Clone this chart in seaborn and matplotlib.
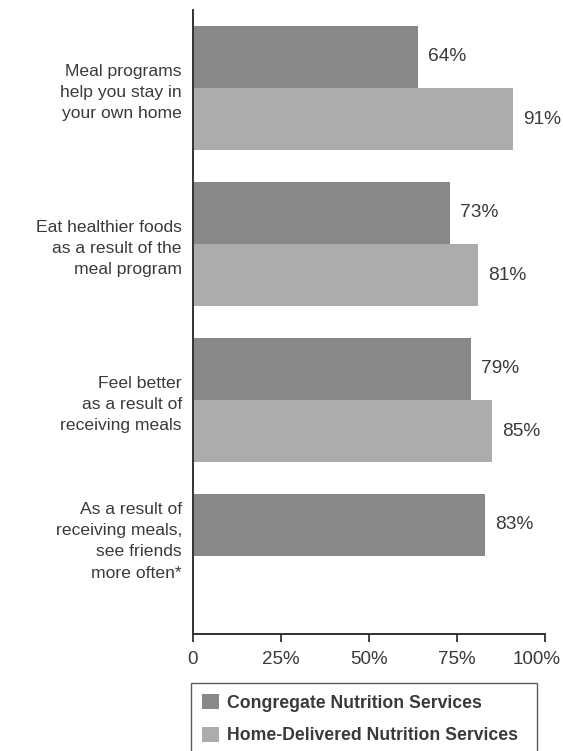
import matplotlib
matplotlib.use("Agg")
import matplotlib.pyplot as plt
from matplotlib.patches import Patch
from matplotlib.transforms import ScaledTranslation
import seaborn as sns
import pandas as pd

categories = [
    "Meal programs\nhelp you stay in\nyour own home",
    "Eat healthier foods\nas a result of the\nmeal program",
    "Feel better\nas a result of\nreceiving meals",
    "As a result of\nreceiving meals,\nsee friends\nmore often*",
]
series = ["Congregate Nutrition Services", "Home-Delivered Nutrition Services"]
congregate = [64, 73, 79, 83]
home_delivered = [91, 81, 85]  # not reported for the last item
xticks = [0, 25, 50, 75, 100]
xtick_labels = ["0", "25%", "50%", "75%", "100%"]
colors = ["#888888", "#acacac"]

rows = []
for c, v in zip(categories, congregate):
    rows.append({"item": c, "service": series[0], "pct": v})
for c, v in zip(categories, home_delivered):
    rows.append({"item": c, "service": series[1], "pct": v})
df = pd.DataFrame(rows)

sns.set_theme(style="white")
plt.rcParams["font.family"] = ["Liberation Sans", "DejaVu Sans"]
text_color = "#3a3a3a"

fig = plt.figure(figsize=(5.63, 7.51), dpi=100)
ax = fig.add_axes([193 / 563, 1 - 634 / 751, 352 / 563, 624 / 751])

sns.barplot(data=df, y="item", x="pct", hue="service", order=categories,
            hue_order=series, palette=colors, orient="h", width=0.8,
            saturation=1, legend=False, ax=ax, linewidth=0)

for cont in ax.containers:
    ax.bar_label(cont, fmt="%d%%", padding=7, fontsize=13.8, color=text_color)

ax.set_xlim(0, 100)
ax.set_ylim(3.5, -0.5)
ax.set_xticks(xticks)
ax.set_xticklabels(xtick_labels, fontsize=13.5, color=text_color)
ax.set_yticks(range(len(categories)))
ax.set_yticklabels(categories, fontsize=12.6, color=text_color, linespacing=1.5)
ax.set_xlabel("")
ax.set_ylabel("")

ax.tick_params(axis="y", length=0, pad=8)
ax.tick_params(axis="x", direction="out", length=6, width=1.3, color="#333333",
               pad=6, bottom=True)
for side in ["top", "right"]:
    ax.spines[side].set_visible(False)
for side in ["left", "bottom"]:
    ax.spines[side].set_color("#333333")
    ax.spines[side].set_linewidth(1.4)

# last category label sits a bit above its bar row
lbl = ax.get_yticklabels()[-1]
lbl.set_transform(lbl.get_transform() + ScaledTranslation(0, 0.19, fig.dpi_scale_trans))
# "100%" is nudged left to stay inside the figure
xl = ax.get_xticklabels()[-1]
xl.set_transform(xl.get_transform() + ScaledTranslation(-0.08, 0, fig.dpi_scale_trans))

handles = [Patch(facecolor=colors[0], edgecolor="none"),
           Patch(facecolor=colors[1], edgecolor="none")]
leg = fig.legend(handles, series, loc="upper left",
                 bbox_to_anchor=(191 / 563, 1 - 683 / 751, 346 / 563, 0.0),
                 mode="expand", frameon=True, fancybox=False, borderaxespad=0,
                 prop={"weight": "bold", "size": 12.7},
                 handlelength=1.0, handleheight=1.0, handletextpad=0.45,
                 labelspacing=0.85, borderpad=0.6)
leg.get_frame().set_edgecolor("#333333")
leg.get_frame().set_linewidth(1.0)
for t in leg.get_texts():
    t.set_color(text_color)

fig.savefig("out.png", dpi=100)
